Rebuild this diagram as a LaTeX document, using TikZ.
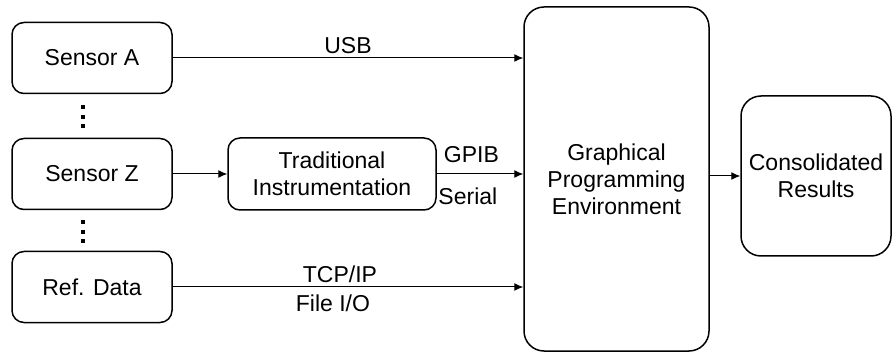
\documentclass[tikz,border=0pt]{standalone}
\usepackage{fontspec}
\setmainfont{Liberation Sans}
\usetikzlibrary{calc,arrows.meta}

\begin{document}
\begin{tikzpicture}[x=1pt,y=-1pt,
  box/.style={draw, rounded corners=12pt, line width=1.5pt, align=center,
    inner sep=0pt, font=\fontsize{23}{27}\selectfont},
  bigbox/.style={box, rounded corners=20pt},
  link/.style={line width=1pt,-{Latex[length=9pt,width=8pt]}},
  lbl/.style={font=\fontsize{23}{27}\selectfont}]
%
\useasboundingbox (0,0) rectangle (893,352);
%
% sources on the left
\node[box, minimum width=160pt, minimum height=71pt] (sa) at (92,58) {Sensor A};
\node[box, minimum width=160pt, minimum height=71pt] (sz) at (92,174) {Sensor Z};
\node[box, minimum width=160pt, minimum height=71pt] (ref) at (92,287) {Ref. Data};
\node[box, minimum width=208pt, minimum height=72pt] (trad) at (332,174) {Traditional\\Instrumentation};
%
% main blocks
\node[bigbox, minimum width=185pt, minimum height=344pt] (gpe) at (616.5,179) {Graphical\\Programming\\Environment};
\node[bigbox, minimum width=150pt, minimum height=160pt] (cr) at (816,176) {Consolidated\\Results};
%
% dots between the sensors
\foreach \y in {107,117,126,222,232,241}
  \fill (81,\y-2) rectangle +(4,4);
%
% links
\draw[link] (sa.east) -- (sa.east -| gpe.west) node[lbl, pos=0.5, above] (usb) {USB};
\draw[link] (sz.east) -- (trad.west);
\draw[link] (trad.east) -- (trad.east -| gpe.west)
  node[lbl, pos=0.40, above=7pt] (gpib) {GPIB}
  node[lbl, pos=0.36, below=10pt] (ser) {Serial};
\draw[link] (ref.east) -- (ref.east -| gpe.west)
  node[lbl, pos=0.477, above] (tcp) {TCP/IP}
  node[lbl, pos=0.457, below=4pt] (fio) {File I/O};
\draw[link] (gpe.east |- cr.west) -- (cr.west);
%
\end{tikzpicture}
\end{document}
